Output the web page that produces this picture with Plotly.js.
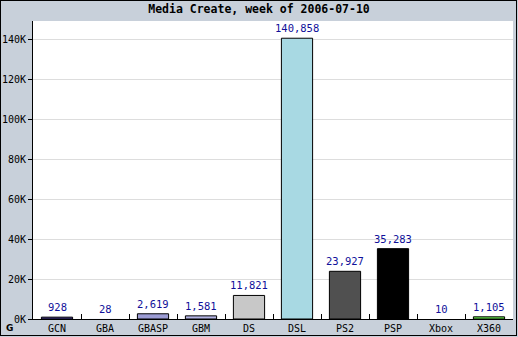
<!DOCTYPE html>
<html>
<head>
<meta charset="utf-8">
<script src="https://cdn.plot.ly/plotly-3.0.1.min.js"></script>
<style>html,body{margin:0;padding:0;background:#c8d0da;}#chart{width:518px;height:337px;}</style>
</head>
<body>
<div id="chart"></div>
<script>
const categories = ["GCN","GBA","GBASP","GBM","DS","DSL","PS2","PSP","Xbox","X360"];
const sales = [928, 28, 2619, 1581, 11821, 140858, 23927, 35283, 10, 1105];
const barColors = ["#4a3d9c","#7070c0","#9c9cd4","#b4b4e4","#c8c8c8","#a8d9e3","#505050","#000000","#2a8a2a","#66e64a"];
const yTickVals = [0,20000,40000,60000,80000,100000,120000,140000];
const yTickText = ["0K","20K","40K","60K","80K","100K","120K","140K"];
const titleText = "Media Create, week of 2006-07-10";

const mono = "DejaVu Sans Mono, monospace";
const trace = {
  type: "bar",
  x: categories,
  y: sales,
  width: 0.65,
  marker: {color: barColors, line: {color: "#000000", width: sales.map(v => v < 100 ? 0 : 1)}},
  hoverinfo: "none"
};
const labelAnns = categories.map((c, i) => ({
  x: c, y: sales[i], xref: "x", yref: "y",
  text: sales[i].toLocaleString("en-US"),
  showarrow: false, xanchor: "center", yanchor: "bottom", yshift: 2,
  font: {family: mono, size: 10.5, color: "#10109a"}
}));
const layout = {
  width: 518, height: 337,
  margin: {l: 33, r: 5, t: 21, b: 18, pad: 0},
  paper_bgcolor: "#c8d0da",
  plot_bgcolor: "#ffffff",
  showlegend: false,
  title: {text: "<b>" + titleText + "</b>", font: {family: mono, size: 11.5, color: "#000000"}, x: 0.5, xanchor: "center", y: 0.985, yanchor: "top"},
  xaxis: {
    type: "category",
    tickson: "boundaries",
    ticks: "inside", ticklen: 5, tickcolor: "#000000",
    showline: true, linecolor: "#000000", linewidth: 1,
    showgrid: false,
    tickfont: {family: mono, size: 10, color: "#000000"},
    fixedrange: true
  },
  yaxis: {
    range: [0, 149500],
    tickvals: yTickVals, ticktext: yTickText,
    ticks: "outside", ticklen: 4, tickcolor: "#000000",
    showline: true, linecolor: "#000000", linewidth: 1,
    showgrid: true, gridcolor: "#dddddd", gridwidth: 1,
    zeroline: false,
    tickfont: {family: mono, size: 10, color: "#000000"},
    fixedrange: true
  },
  annotations: labelAnns.concat([
    {text: "<b>G</b>", xref: "paper", yref: "paper", x: -0.05, y: -0.03, xanchor: "center", yanchor: "middle", showarrow: false, font: {family: "DejaVu Sans", size: 9, color: "#000000"}}
  ])
};
Plotly.newPlot("chart", [trace], layout, {displayModeBar: false, staticPlot: true}).then(() => {
  const ns = "http://www.w3.org/2000/svg";
  const r = document.createElementNS(ns, "rect");
  r.setAttribute("x", "0.5"); r.setAttribute("y", "0.5");
  r.setAttribute("width", "516"); r.setAttribute("height", "335");
  r.setAttribute("fill", "none"); r.setAttribute("stroke", "#000000"); r.setAttribute("stroke-width", "1");
  document.querySelectorAll("#chart svg.main-svg")[1].appendChild(r);
});
</script>
</body>
</html>
